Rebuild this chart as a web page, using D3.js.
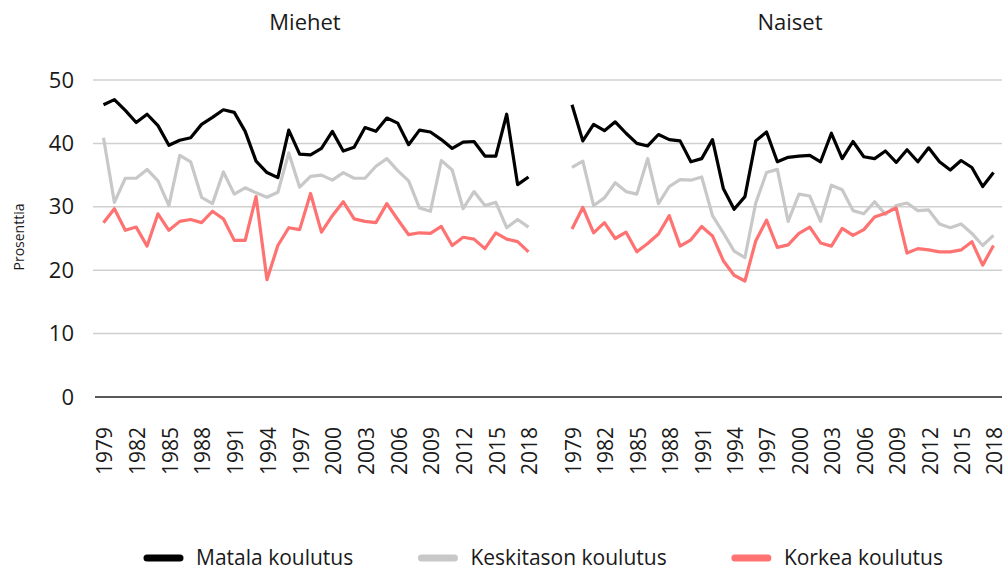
<!DOCTYPE html>
<html>
<head>
<meta charset="utf-8">
<script src="https://cdn.jsdelivr.net/npm/d3@7"></script>
<style>
  body { margin: 0; background: #fff; }
  text { font-family: "Open Sans", sans-serif; fill: #1a1a1a; }
</style>
</head>
<body>
<div id="chart"></div>
<script>
// years 1979..2018
var years = d3.range(1979, 2019);
var tickYears = [1979, 1982, 1985, 1988, 1991, 1994, 1997, 2000, 2003, 2006, 2009, 2012, 2015, 2018];
var yTicks = [0, 10, 20, 30, 40, 50];

var menLow = [46.1, 46.9, 45.2, 43.3, 44.6, 42.8, 39.7, 40.5, 40.9, 43.0, 44.1, 45.3, 44.9, 41.9, 37.2, 35.4, 34.6, 42.1, 38.3, 38.2,
  39.2, 41.9, 38.8, 39.4, 42.5, 41.9, 44.0, 43.2, 39.8, 42.1, 41.8, 40.6, 39.2, 40.2, 40.3, 38.0, 38.0, 44.6, 33.5, 34.7];
var menMid = [40.9, 30.7, 34.5, 34.5, 35.9, 34.1, 30.2, 38.1, 37.1, 31.5, 30.5, 35.5, 32.0, 33.0, 32.2, 31.5, 32.3, 38.5, 33.1, 34.8,
  35.0, 34.2, 35.4, 34.5, 34.5, 36.4, 37.6, 35.7, 34.1, 29.8, 29.3, 37.3, 35.8, 29.7, 32.4, 30.2, 30.7, 26.7, 28.0, 26.8];
var menHigh = [27.5, 29.7, 26.3, 26.8, 23.8, 28.9, 26.3, 27.7, 28.0, 27.5, 29.3, 28.1, 24.7, 24.7, 31.6, 18.5, 23.9, 26.7, 26.4, 32.1,
  26.0, 28.6, 30.8, 28.1, 27.7, 27.5, 30.5, 28.0, 25.6, 25.9, 25.8, 26.9, 23.9, 25.2, 24.9, 23.4, 25.9, 24.9, 24.5, 22.9];

var womenLow = [46.1, 40.4, 43.0, 42.0, 43.4, 41.6, 40.0, 39.6, 41.4, 40.6, 40.4, 37.1, 37.6, 40.6, 32.9, 29.6, 31.6, 40.4, 41.8, 37.1,
  37.8, 38.0, 38.1, 37.1, 41.6, 37.6, 40.3, 37.9, 37.6, 38.8, 37.0, 39.0, 37.1, 39.3, 37.1, 35.8, 37.3, 36.2, 33.2, 35.4];
var womenMid = [36.2, 37.2, 30.2, 31.4, 33.8, 32.4, 32.0, 37.6, 30.5, 33.2, 34.3, 34.2, 34.7, 28.6, 25.9, 23.0, 22.0, 30.6, 35.4, 35.9,
  27.7, 32.0, 31.7, 27.7, 33.4, 32.7, 29.4, 28.9, 30.8, 28.8, 30.2, 30.6, 29.4, 29.5, 27.3, 26.7, 27.3, 25.8, 23.9, 25.5];
var womenHigh = [26.5, 29.9, 25.9, 27.5, 25.0, 26.0, 22.9, 24.2, 25.7, 28.6, 23.8, 24.8, 26.9, 25.4, 21.5, 19.2, 18.3, 24.6, 27.9, 23.6,
  24.0, 25.8, 26.8, 24.3, 23.8, 26.6, 25.5, 26.4, 28.4, 29.0, 29.8, 22.7, 23.4, 23.2, 22.9, 22.9, 23.2, 24.5, 20.8, 23.9];

var seriesNames = ["Matala koulutus", "Keskitason koulutus", "Korkea koulutus"];
var seriesColors = ["#000000", "#c8c8c8", "#ff7272"];
var panelTitles = ["Miehet", "Naiset"];

var width = 1007, height = 574;

var svg = d3.select("#chart").append("svg")
  .attr("width", width)
  .attr("height", height);

var y = d3.scaleLinear().domain([0, 50]).range([397, 80]);

var panels = [
  { title: panelTitles[0], cx: 305, x: d3.scaleLinear().domain([1979, 2018]).range([103.5, 528.5]), data: [menLow, menMid, menHigh] },
  { title: panelTitles[1], cx: 790, x: d3.scaleLinear().domain([1979, 2018]).range([572, 993.5]), data: [womenLow, womenMid, womenHigh] }
];

// gridlines across both panels
svg.append("g").selectAll("line")
  .data(yTicks.filter(d => d > 0))
  .enter().append("line")
  .attr("x1", 93).attr("x2", 1002)
  .attr("y1", d => y(d)).attr("y2", d => y(d))
  .attr("stroke", "#d0d0d0")
  .attr("stroke-width", 1.5);

// baseline
svg.append("line")
  .attr("x1", 95).attr("x2", 1002)
  .attr("y1", y(0)).attr("y2", y(0))
  .attr("stroke", "#222")
  .attr("stroke-width", 1.5);

// y axis labels
var yAxis = d3.axisLeft(y).tickValues(yTicks).tickSize(0).tickPadding(0);
var gy = svg.append("g").attr("transform", "translate(74,0)").call(yAxis);
gy.select(".domain").remove();
gy.selectAll("text")
  .style("font-family", "'Open Sans', sans-serif")
  .style("font-size", "22px")
  .attr("fill", "#1a1a1a");

svg.append("text")
  .attr("transform", "translate(24,237) rotate(-90)")
  .attr("text-anchor", "middle")
  .style("font-size", "14px")
  .text("Prosenttia");

var line = d3.line();

panels.forEach(function (p) {
  var g = svg.append("g");

  // x axis labels
  var xAxis = d3.axisBottom(p.x).tickValues(tickYears).tickSize(0).tickFormat(d3.format("d"));
  var gx = g.append("g").attr("transform", "translate(0,427)").call(xAxis);
  gx.select(".domain").remove();
  gx.selectAll("text")
    .attr("transform", "rotate(-90)")
    .attr("text-anchor", "end")
    .attr("x", 0)
    .attr("y", 0)
    .attr("dy", "0.4em")
    .style("font-family", "'Open Sans', sans-serif")
    .style("font-size", "21px")
    .attr("fill", "#1a1a1a");

  // title
  g.append("text")
    .attr("x", p.cx)
    .attr("y", 30)
    .attr("text-anchor", "middle")
    .style("font-size", "22px")
    .text(p.title);

  // lines (gray first, then red, then black on top)
  [1, 2, 0].forEach(function (k) {
    var pts = years.map((yr, i) => [p.x(yr), y(p.data[k][i])]);
    g.append("path")
      .attr("d", line(pts))
      .attr("fill", "none")
      .attr("stroke", seriesColors[k])
      .attr("stroke-width", 3.2)
      .attr("stroke-linejoin", "round");
  });
});

// legend
var legend = svg.append("g");
var items = legend.selectAll("g")
  .data(seriesNames)
  .enter().append("g");
items.append("line")
  .attr("x1", 0).attr("x2", 33)
  .attr("y1", 0).attr("y2", 0)
  .attr("stroke", (d, i) => seriesColors[i])
  .attr("stroke-width", 7)
  .attr("stroke-linecap", "round");
items.append("text")
  .attr("x", 49)
  .attr("y", 0)
  .attr("dy", "0.35em")
  .style("font-size", "21px")
  .text(d => d);

var offset = 0, widths = [];
items.each(function () { widths.push(this.getBBox().width); });
var gap = (796 - d3.sum(widths)) / (widths.length - 1);
items.attr("transform", function (d, i) {
  var tx = 147 + offset;
  offset += widths[i] + gap;
  return "translate(" + tx + ",558)";
});
</script>
</body>
</html>
